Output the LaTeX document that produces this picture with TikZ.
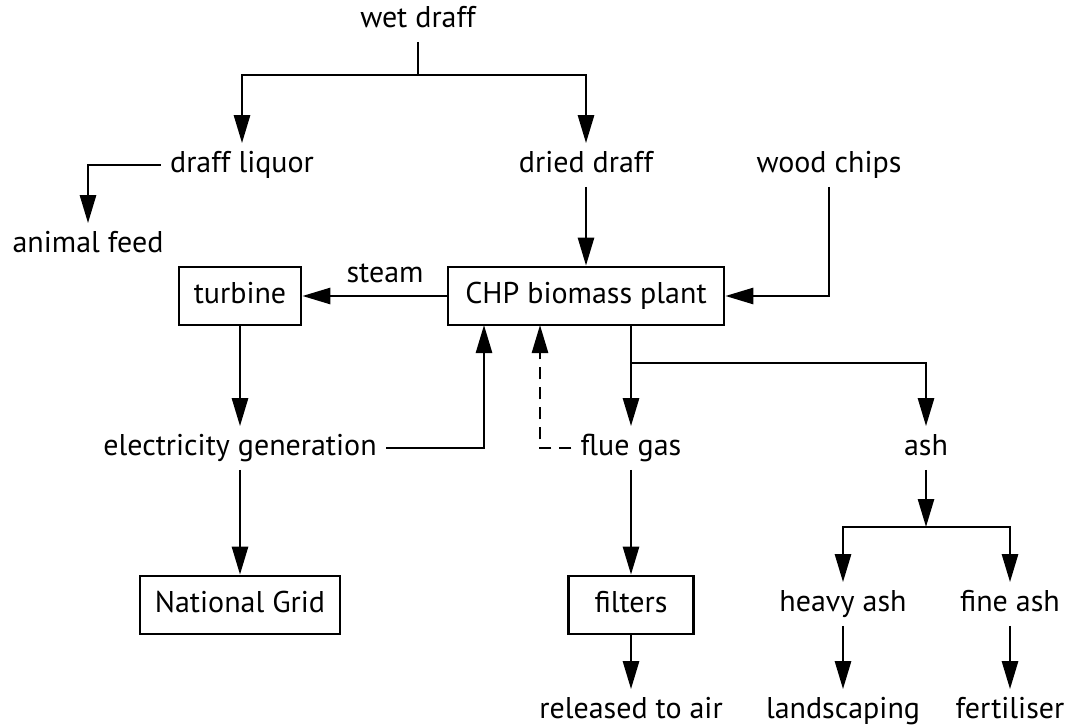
\documentclass[tikz,border=0pt]{standalone}
\usepackage{fontspec}
\setmainfont{PT Sans}
\usetikzlibrary{arrows.meta}

\begin{document}
\begin{tikzpicture}[x=1pt,y=-1pt,->,>={Triangle[length=28pt,width=16pt]},line width=2.7pt,font=\fontsize{30}{34}\selectfont]
	\tikzstyle{item}=[inner sep=8pt,text height=20pt,text depth=5pt]
	\tikzstyle{box}=[draw,item,minimum height=58pt,inner sep=0pt]
	\tikzstyle{feedback}=[->,dash pattern=on 12pt off 8pt]
	\useasboundingbox (0,0) rectangle (1067,727);
	
	% Draw the products of the draff
	\node[item] (wet) at (418,20) {wet draff};
	\node[item] (liquor) at (242,165) {draff liquor};
	\node[item] (dried) at (586,165) {dried draff};
	\node[item] (wood) at (829,165) {wood chips};
	\node[item] (feed) at (88,245) {animal feed};
	
	% Draw the plant and the turbine
	\node[box,minimum width=276pt] (chp) at (586,296) {CHP biomass plant};
	\node[box,minimum width=122pt] (turbine) at (240,296) {turbine};
	\node[item] (steam) at (385,275) {steam};
	\node[item] (elec) at (240,448) {electricity generation};
	\node[box,minimum width=200pt] (grid) at (240,605) {National Grid};
	
	% Draw the flue gas and ash products
	\node[item] (flue) at (631,448) {flue gas};
	\node[item] (ash) at (926,448) {ash};
	\node[box,minimum width=125pt] (filters) at (631,605) {filters};
	\node[item] (heavy) at (843,604) {heavy ash};
	\node[item] (fine) at (1010,604) {fine ash};
	\node[item] (released) at (631,711) {released to air};
	\node[item] (landscaping) at (843,711) {landscaping};
	\node[item] (fertiliser) at (1010,711) {fertiliser};
	
	% Junctions on the connectors
	\coordinate (split) at (418,75);
	\coordinate (elec in) at (484,325);
	\coordinate (flue in) at (540,325);
	\coordinate (chp out) at (631,325);
	\coordinate (ash split) at (631,363);
	\coordinate (ash bar) at (926,527);
	
	% Split the wet draff
	\draw[-] (wet) -- (split);
	\draw (split) -| (liquor);
	\draw (split) -| (dried);
	\draw (liquor) -| (feed);
	
	% Connect the straight flows
	\foreach \source/\dest in {dried/chp,chp/turbine,turbine/elec,elec/grid,flue/filters,filters/released,heavy/landscaping,fine/fertiliser}
	\path (\source) edge (\dest);
	
	\draw (wood) |- (chp);
	\draw (elec) -| (elec in);
	\draw[feedback] (flue) -| (flue in);
	
	% Split the outputs of the plant
	\draw (chp out) -- (flue);
	\draw (ash split) -| (ash);
	\draw (ash) -- (ash bar);
	\draw (ash bar) -| (heavy);
	\draw (ash bar) -| (fine);
\end{tikzpicture}
\end{document}
